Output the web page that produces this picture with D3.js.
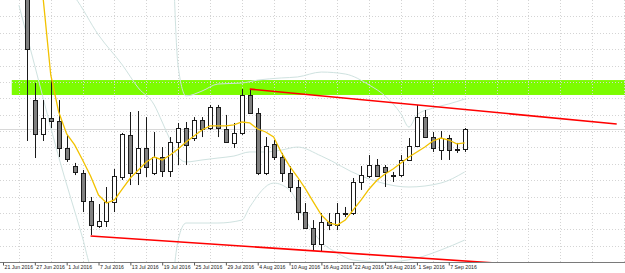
<!DOCTYPE html>
<html>
<head>
<meta charset="utf-8">
<script src="https://cdn.jsdelivr.net/npm/d3@7"></script>
<style>
    body { margin: 0; background: #fff; }
    #chart { width: 625px; height: 273px; }
</style>
</head>
<body>
<div id="chart"></div>
<script>
// daily bars, bar 0 = 21 Jun 2016 (bars 0-2 sit above the visible window)
const firstBar = 3;
const opens  = [144.66, 134.89, 132.82, 133.79, 133.61, 131.96, 130.86, 130.44, 128.73, 127.20,
                127.50, 128.66, 130.19, 132.76, 130.44, 131.96, 130.44, 131.41, 130.56, 132.33,
                133.18, 132.57, 133.67, 133.18, 134.47, 133.12, 132.27, 132.88, 135.20, 134.10,
                130.44, 132.21, 131.41, 130.44, 129.58, 128.05, 127.08, 126.10, 127.44, 127.26,
                127.99, 127.99, 129.89, 130.25, 130.92, 130.80, 130.31, 130.31, 131.23, 132.08,
                133.85, 132.63, 131.84, 132.57, 131.90, 131.90];
const highs  = [145.27, 135.93, 134.89, 136.11, 134.89, 132.76, 131.05, 130.62, 128.97, 128.54,
                129.58, 130.68, 132.88, 134.16, 134.22, 133.85, 132.94, 132.02, 132.63, 133.49,
                133.55, 133.85, 133.85, 134.59, 134.59, 133.98, 133.49, 135.56, 135.56, 134.40,
                132.63, 132.45, 131.66, 130.86, 130.01, 128.60, 127.56, 127.99, 127.99, 128.60,
                128.36, 130.13, 130.86, 131.53, 131.29, 130.92, 130.50, 131.53, 132.57, 134.59,
                134.28, 132.94, 133.00, 132.76, 132.27, 133.18];
const lows   = [132.39, 131.35, 132.39, 133.18, 131.41, 131.11, 130.31, 128.05, 126.65, 127.08,
                127.14, 128.05, 130.01, 129.70, 129.70, 130.19, 130.31, 130.19, 130.19, 130.92,
                130.92, 132.39, 132.63, 133.06, 132.63, 132.27, 131.96, 132.76, 134.04, 130.31,
                130.31, 131.23, 129.89, 129.27, 127.56, 127.02, 125.73, 125.61, 126.95, 126.95,
                127.75, 127.87, 129.40, 130.13, 130.19, 129.58, 129.89, 130.19, 131.17, 132.02,
                132.57, 131.72, 131.23, 131.23, 131.66, 131.72];
const closes = [138.01, 132.82, 133.79, 133.61, 131.96, 131.29, 130.50, 128.73, 127.26, 127.50,
                128.66, 130.25, 132.82, 130.44, 131.96, 130.80, 131.41, 130.56, 132.33, 133.18,
                132.15, 133.67, 133.12, 134.47, 133.18, 132.33, 132.88, 135.20, 134.10, 130.44,
                132.08, 131.41, 130.44, 129.58, 128.05, 127.08, 126.10, 127.44, 127.26, 127.99,
                127.96, 129.89, 130.31, 130.92, 130.25, 130.50, 130.25, 131.23, 132.08, 133.85,
                132.63, 131.96, 132.57, 131.84, 131.86, 133.12];

// yellow moving average, one value per bar from bar 5
const maFirstBar = 5;
const maValues = [141.31, 136.42, 134.16, 132.82, 132.15, 131.23, 130.25, 129.09, 128.60, 128.79,
                  129.46, 130.13, 130.62, 131.11, 131.41, 131.23, 131.53, 131.90, 132.33, 132.69,
                  133.06, 133.31, 133.31, 133.31, 133.37, 133.55, 133.49, 133.12, 132.94, 132.63,
                  131.66, 130.86, 130.19, 129.46, 128.66, 127.87, 127.38, 127.26, 127.56, 128.18,
                  128.79, 129.46, 130.01, 130.37, 130.68, 131.05, 131.41, 131.72, 132.02, 132.39,
                  132.57, 132.45, 132.21, 132.27];

// bollinger band lines as [bar, price]
const bandUpper = [[21, 150.16], [22, 136.97], [23, 135.14], [25, 135.44], [27, 135.87], [30, 135.93],
                   [32, 136.11], [35, 136.24], [37, 136.30], [40, 136.60], [43, 136.48], [46, 135.81],
                   [48, 135.14], [50, 134.04], [51, 133.24], [52, 133.98], [54, 134.40], [56, 134.65],
                   [58, 134.95]];
const bandMiddle = [[7, 142.22], [9, 141.18], [12, 138.86], [15, 137.03], [17, 135.63], [19, 134.59],
                    [20, 133.55], [21, 132.45], [22, 131.41], [23, 131.11], [25, 131.23], [27, 131.35],
                    [29, 131.47], [31, 131.72], [33, 131.72], [35, 131.84], [37, 132.02], [40, 131.47],
                    [45, 130.25], [51, 129.58], [55, 129.82], [58, 130.50]];
const bandLower = [[2, 140.69], [4, 136.97], [7, 131.41], [10, 126.47], [11, 124.76], [16, 122.68],
                   [21, 123.29], [22, 126.34], [23, 127.38], [27, 127.38], [30, 127.56], [31, 128.36],
                   [34, 129.82], [36, 129.40], [38, 127.56], [40, 126.22], [42, 125.55], [44, 125.12],
                   [48, 125.00], [52, 125.24], [55, 125.73], [58, 126.34]];

// green resistance zone: [from bar, top price, bottom price]
const zone = [1.1, 136.11, 135.20];
// red trend lines
const trendHigh = [[31, 135.56], [77.1, 133.43]];
const trendLow = [[11, 126.59], [75, 124.51]];

const tickBars = [0, 4, 8, 12, 16, 20, 24, 28, 32, 36, 40, 44, 48, 52, 56];
const tickLabels = ["21 Jun 2016", "27 Jun 2016", "1 Jul 2016", "7 Jul 2016", "13 Jul 2016",
                    "19 Jul 2016", "25 Jul 2016", "29 Jul 2016", "4 Aug 2016", "10 Aug 2016",
                    "16 Aug 2016", "22 Aug 2016", "26 Aug 2016", "1 Sep 2016", "7 Sep 2016"];

class CandleChart {
    constructor(parentElement) {
        this.parentElement = parentElement;
        this.initVis();
    }

    initVis() {
        let vis = this;

        vis.width = 625;
        vis.height = 273;
        vis.plotBottom = 262;

        vis.svg = d3.select("#" + vis.parentElement).append("svg")
            .attr("width", vis.width)
            .attr("height", vis.height)
            .style("display", "block")
            .style("background", "#fff");

        vis.svg.append("clipPath").attr("id", "plot-clip")
            .append("rect")
            .attr("width", vis.width)
            .attr("height", vis.plotBottom);

        vis.x = d3.scaleLinear().domain([0, 78]).range([3, 3 + 78 * 7.96]);
        vis.y = d3.scaleLinear().domain([125, 141]).range([vis.plotBottom, 0]);

        vis.plot = vis.svg.append("g").attr("clip-path", "url(#plot-clip)");

        vis.wrangleData();
    }

    wrangleData() {
        let vis = this;

        vis.bars = opens.map((o, k) => ({
            bar: firstBar + k, open: o, high: highs[k], low: lows[k], close: closes[k]
        }));
        vis.ma = maValues.map((v, k) => [maFirstBar + k, v]);

        vis.updateVis();
    }

    updateVis() {
        let vis = this;
        let crisp = v => Math.round(v) + 0.5;

        // green zone
        vis.plot.append("rect")
            .attr("x", vis.x(zone[0]))
            .attr("y", vis.y(zone[1]))
            .attr("width", vis.width - vis.x(zone[0]))
            .attr("height", vis.y(zone[2]) - vis.y(zone[1]))
            .attr("fill", "#7cfc00");

        // dotted grid
        vis.plot.selectAll(".hgrid")
            .data(d3.range(126, 141))
            .enter().append("line")
            .attr("x1", 0).attr("x2", vis.width)
            .attr("y1", d => crisp(vis.y(d))).attr("y2", d => crisp(vis.y(d)))
            .attr("stroke", "#d4d4d4")
            .attr("stroke-dasharray", "1,2");

        vis.plot.selectAll(".vgrid")
            .data(d3.range(2, 79, 4))
            .enter().append("line")
            .attr("x1", d => crisp(vis.x(d))).attr("x2", d => crisp(vis.x(d)))
            .attr("y1", 0).attr("y2", vis.plotBottom)
            .attr("stroke", "#d4d4d4")
            .attr("stroke-dasharray", "1,2");

        // bid line at last close
        let lastClose = closes[closes.length - 1];
        vis.plot.append("line")
            .attr("x1", 0).attr("x2", vis.width)
            .attr("y1", crisp(vis.y(lastClose))).attr("y2", crisp(vis.y(lastClose)))
            .attr("stroke", "#d8d8d8");

        // bollinger bands
        let line = d3.line()
            .x(d => vis.x(d[0]))
            .y(d => vis.y(d[1]))
            .curve(d3.curveMonotoneX);

        [bandUpper, bandMiddle, bandLower].forEach(b => {
            vis.plot.append("path")
                .attr("d", line(b))
                .attr("fill", "none")
                .attr("stroke", "#cfe2e0")
                .attr("stroke-width", 1);
        });

        // candles
        let candle = vis.plot.selectAll(".candle")
            .data(vis.bars)
            .enter().append("g")
            .attr("class", "candle");

        candle.append("line")
            .attr("x1", d => crisp(vis.x(d.bar)))
            .attr("x2", d => crisp(vis.x(d.bar)))
            .attr("y1", d => vis.y(d.high))
            .attr("y2", d => vis.y(d.low))
            .attr("stroke", "#1a1a1a");

        candle.append("rect")
            .attr("x", d => Math.round(vis.x(d.bar)) - 1.5)
            .attr("y", d => Math.round(vis.y(Math.max(d.open, d.close))) + 0.5)
            .attr("width", 4)
            .attr("height", d => Math.max(1, Math.round(Math.abs(vis.y(d.open) - vis.y(d.close)))))
            .attr("fill", d => d.close >= d.open ? "#ffffff" : "#808080")
            .attr("stroke", "#1a1a1a");

        // moving average
        vis.plot.append("path")
            .attr("d", d3.line().x(d => vis.x(d[0])).y(d => vis.y(d[1]))(vis.ma))
            .attr("fill", "none")
            .attr("stroke", "#f2c200")
            .attr("stroke-width", 1.3);

        // trend lines
        [trendHigh, trendLow].forEach(t => {
            vis.plot.append("path")
                .attr("d", d3.line().x(d => vis.x(d[0])).y(d => vis.y(d[1]))(t))
                .attr("stroke", "#ff0000")
                .attr("stroke-width", 1.6)
                .attr("fill", "none");
        });

        // time axis
        let axis = d3.axisBottom(vis.x)
            .tickValues(tickBars)
            .tickFormat((d, i) => tickLabels[i])
            .tickSize(3)
            .tickSizeOuter(0);

        let ax = vis.svg.append("g")
            .attr("transform", "translate(0," + (vis.plotBottom + 0.5) + ")")
            .call(axis);

        ax.select(".domain")
            .attr("d", "M0,0H" + vis.width)
            .attr("stroke", "#7a7a7a");

        ax.selectAll(".tick line").attr("stroke", "#555");

        ax.selectAll(".tick text")
            .attr("text-anchor", "start")
            .attr("x", 1)
            .attr("y", 2.5)
            .attr("fill", "#222")
            .style("font-family", "'Liberation Sans', sans-serif")
            .style("font-size", "5.2px");
    }
}

new CandleChart("chart");
</script>
</body>
</html>
